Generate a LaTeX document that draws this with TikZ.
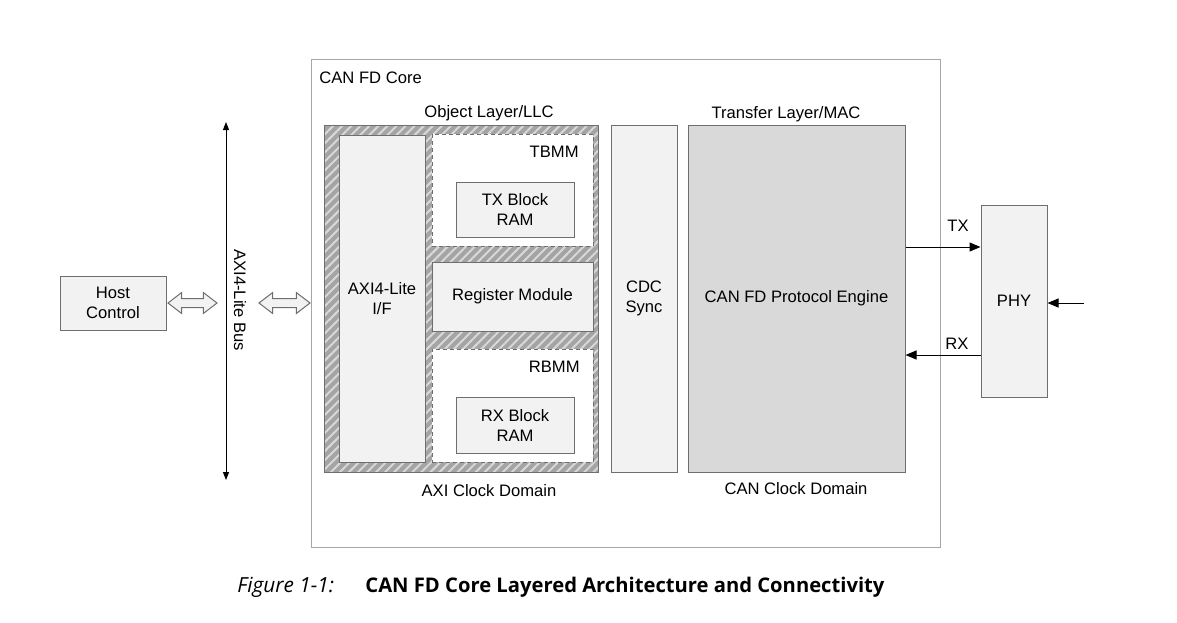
\documentclass[tikz,border=0pt]{standalone}
\usepackage{fontspec}
\setmainfont{Liberation Sans}
\newfontfamily\capfont{Open Sans}
\usetikzlibrary{calc,shapes.arrows,patterns.meta,arrows.meta}

\definecolor{blkfill}{HTML}{F2F2F2}
\definecolor{engfill}{HTML}{D9D9D9}
\definecolor{blkline}{HTML}{6E6E6E}
\definecolor{coreline}{HTML}{A6A6A6}
\definecolor{hatchbg}{HTML}{A4A4A4}
\definecolor{hatchfg}{HTML}{D8D8D8}

\tikzset{
  blk/.style={draw=blkline, fill=blkfill, line width=0.5pt, align=center, inner sep=0pt},
  mem/.style={draw=blkline, fill=white, dashed, dash pattern=on 2pt off 1.5pt, line width=0.5pt, inner sep=0pt},
  lbl/.style={inner sep=0pt, align=center},
  sig/.style={line width=0.5pt, -{Triangle[length=5.5pt,width=4.5pt]}},
  bus/.style={line width=0.5pt, {Triangle[length=4pt,width=3pt]}-{Triangle[length=4pt,width=3pt]}},
  hollow/.style={double arrow, draw=blkline, fill=blkfill, line width=0.5pt, inner xsep=0pt, inner ysep=2pt,
    double arrow head extend=3pt, double arrow tip angle=75, minimum width=10pt}
}

\begin{document}
\begin{tikzpicture}[x=0.5pt, y=-0.5pt, font=\fontsize{8.3}{10}\selectfont]
  \useasboundingbox (0,0) rectangle (1177,622);

  \node[draw=coreline, fill=white, line width=0.5pt, minimum width=314.5pt, minimum height=244pt] (core) at (625.5,303) {};
  \node[lbl, anchor=west] (corelbl) at (319,78) {CAN FD Core};

  \node[draw=blkline, line width=0.5pt, minimum width=137pt, minimum height=173.5pt,
    preaction={fill=hatchbg}, pattern={Lines[angle=45,distance=3.2pt,line width=1pt]}, pattern color=hatchfg] (llc) at (461,298.5) {};
  \node[lbl] (llclbl) at (489,113) {Object Layer/LLC};
  \node[lbl] (axilbl) at (489,491) {AXI Clock Domain};

  \node[blk, minimum width=43pt, minimum height=163.5pt] (axiif) at (382,298.5) {AXI4-Lite\\I/F};
  \node[mem, minimum width=80.5pt, minimum height=56pt] (tbmm) at (512.5,190) {};
  \node[lbl, anchor=east] (tbmmlbl) at (579,152) {TBMM};
  \node[blk, minimum width=59pt, minimum height=27.5pt] (txram) at (515,209.5) {TX Block\\RAM};
  \node[blk, minimum width=80.5pt, minimum height=34.5pt] (regmod) at (512.5,296.5) {Register Module};
  \node[mem, minimum width=80.5pt, minimum height=56.5pt] (rbmm) at (512.5,405.5) {};
  \node[lbl, anchor=east] (rbmmlbl) at (580,367) {RBMM};
  \node[blk, minimum width=59pt, minimum height=28pt] (rxram) at (515,425) {RX Block\\RAM};

  \node[blk, minimum width=33pt, minimum height=173.5pt] (cdc) at (644,298.5) {CDC\\Sync};
  \node[blk, fill=engfill, minimum width=108.5pt, minimum height=173.5pt] (engine) at (796.5,298.5) {CAN FD Protocol Engine};
  \node[lbl] (maclbl) at (786,114) {Transfer Layer/MAC};
  \node[lbl] (canlbl) at (796,489) {CAN Clock Domain};

  \node[blk, minimum width=33pt, minimum height=96pt] (phy) at (1014,301) {PHY};
  \node[blk, minimum width=53pt, minimum height=27pt] (host) at (113,303) {Host\\Control};

  \coordinate (bustop) at (226,122);
  \coordinate (busbot) at (226,480);
  \draw[bus] (bustop) -- (busbot);
  \node[lbl, rotate=-90] (buslbl) at (240,300) {AXI4-Lite Bus};

  \node[hollow, minimum height=24.5pt] (hostarr) at (192.5,303) {};
  \node[hollow, minimum height=25.5pt] (corearr) at (284.5,303) {};

  \coordinate (txy) at (0,247);
  \coordinate (rxy) at (0,355);
  \coordinate (phyin) at (1084,303);
  \draw[sig] (engine.east |- txy) -- (phy.west |- txy);
  \draw[sig] (phy.west |- rxy) -- (engine.east |- rxy);
  \draw[sig] (phyin) -- (phy.east |- phyin);
  \node[lbl] (txlbl) at (958,226) {TX};
  \node[lbl] (rxlbl) at (957,344) {RX};

  \node[lbl, anchor=west] (capnum) at (237,587) {\capfont\fontsize{10.4}{12}\selectfont\itshape Figure 1-1:};
  \node[lbl, anchor=west] (captxt) at (365,587) {\capfont\fontsize{10.1}{12}\selectfont\bfseries CAN FD Core Layered Architecture and Connectivity};
\end{tikzpicture}
\end{document}
